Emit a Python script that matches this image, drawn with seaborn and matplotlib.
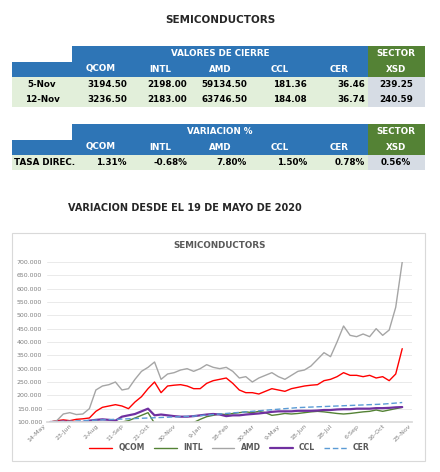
import matplotlib
matplotlib.use("Agg")
import matplotlib.pyplot as plt
import matplotlib.dates as mdates
import matplotlib.ticker as mticker
from matplotlib.patches import Rectangle
import seaborn as sns
import pandas as pd

sns.set_theme(style="white")
plt.rcParams['font.family'] = ['DejaVu Sans']

tickers = ["QCOM", "INTL", "AMD", "CCL", "CER"]
row_labels = ["5-Nov", "12-Nov"]
close_nov5 = ["3194.50", "2198.00", "59134.50", "181.36", "36.46", "239.25"]
close_nov12 = ["3236.50", "2183.00", "63746.50", "184.08", "36.74", "240.59"]
variation = ["1.31%", "-0.68%", "7.80%", "1.50%", "0.78%", "0.56%"]

qcom = [100,105,108,105,110,112,115,140,155,160,165,160,150,175,195,225,250,210,235,238,
        240,235,225,225,245,255,260,265,245,220,210,210,205,215,225,220,215,225,230,235,
        238,240,255,260,270,285,275,275,270,275,265,270,255,280,375]
intl = [100,98,97,96,95,98,97,95,96,97,98,100,105,115,125,135,95,88,90,92,
        95,97,98,110,120,125,130,128,132,135,138,135,140,135,125,128,132,130,132,135,
        138,140,138,135,132,130,132,135,138,140,145,140,145,150,155]
amd = [100,105,130,135,128,130,150,220,235,240,250,220,225,260,290,305,325,260,280,285,
       295,300,290,300,315,305,300,305,290,265,270,250,265,275,285,270,260,275,290,295,
       310,335,360,345,400,460,425,420,430,420,450,425,445,530,700]
ccl = [100,100,102,100,98,100,105,108,110,108,105,120,125,130,140,150,125,128,125,122,
       120,120,122,125,128,130,128,122,125,125,128,130,132,135,138,140,140,140,142,142,
       142,143,145,145,147,148,148,150,150,150,152,152,153,155,156]
cer = [100,101,102,103,104,105,106,107,108,109,110,111,112,113,114,115,116,117,118,119,
       120,121,122,124,126,128,130,132,134,136,138,140,142,144,146,148,150,152,154,155,
       156,157,158,159,160,161,162,163,164,165,166,167,169,171,173]

dates = pd.date_range("2020-05-19", periods=len(amd), freq="10D")
df = pd.DataFrame({"date": dates, "QCOM": qcom, "INTL": intl, "AMD": amd, "CCL": ccl, "CER": cer})
long = df.melt(id_vars="date", var_name="serie", value_name="valor")

W, H = 440, 472
fig = plt.figure(figsize=(4.4, 4.72), dpi=100)
bg = fig.add_axes([0, 0, 1, 1])
bg.set_xlim(0, W); bg.set_ylim(H, 0); bg.axis("off")

BLUE = "#2E75B6"; GREEN = "#548235"; LG = "#E2EFDA"; GB = "#D6DCE4"
cols = [12, 72, 130, 190, 250, 310, 368, 425]

def rect(x0, y0, x1, y1, c):
    bg.add_patch(Rectangle((x0, y0), x1 - x0, y1 - y0, facecolor=c, edgecolor="none"))

def txt(x, y, s, c="black", ha="center", size=6.3):
    bg.text(x, y, s, color=c, ha=ha, va="center", fontsize=size, fontweight="bold")

bg.text(220, 20, "SEMICONDUCTORS", ha="center", va="center", fontsize=7.5, fontweight="bold")

def table(y0, title, rows):
    rect(72, y0, 368, y0 + 16, BLUE)
    rect(12, y0 + 16, 368, y0 + 31, BLUE)
    rect(368, y0, 425, y0 + 31, GREEN)
    txt(220, y0 + 8, title, "white")
    txt(396, y0 + 8, "SECTOR", "white")
    txt(396, y0 + 23, "XSD", "white")
    for i, t in enumerate(tickers):
        txt((cols[i + 1] + cols[i + 2]) / 2, y0 + 23, t, "white")
    y = y0 + 31
    for lab, vals in rows:
        rect(12, y, 368, y + 15, LG)
        rect(368, y, 425, y + 15, GB)
        if lab.startswith("TASA"):
            txt(14, y + 7.5, lab, ha="left")
        else:
            txt(42, y + 7.5, lab)
        for i, v in enumerate(vals[:5]):
            txt(cols[i + 2] - 3, y + 7.5, v, ha="right")
        txt(396, y + 7.5, vals[5])
        y += 15

table(46, "VALORES DE CIERRE", [(row_labels[0], close_nov5), (row_labels[1], close_nov12)])
table(124, "VARIACION %", [("TASA DIREC.", variation)])

bg.text(185, 208, "VARIACION DESDE EL 19 DE MAYO DE 2020", ha="center", va="center",
        fontsize=7, fontweight="bold")
bg.add_patch(Rectangle((12, 233), 413, 228, facecolor="white", edgecolor="#D9D9D9", lw=0.8))
bg.text(220, 245, "SEMICONDUCTORS", ha="center", va="center", fontsize=6.3,
        fontweight="bold", color="#595959")

ax = fig.add_axes([47 / W, 1 - 422 / H, (412 - 47) / W, (422 - 262) / H])
palette = {"QCOM": "#FF0000", "INTL": "#548235", "AMD": "#A5A5A5", "CCL": "#7030A0", "CER": "#5B9BD5"}
sns.lineplot(data=long, x="date", y="valor", hue="serie", style="serie",
             dashes={"QCOM": "", "INTL": "", "AMD": "", "CCL": "", "CER": (4, 2)},
             palette=palette, ax=ax, linewidth=1.0)
for l in ax.get_lines():
    if l.get_color() in ("#7030A0",):
        l.set_linewidth(1.6)
ax.set_ylim(100, 700)
ax.set_xlim(pd.Timestamp("2020-05-14"), pd.Timestamp("2021-11-25"))
ticks = pd.date_range("2020-05-14", periods=15, freq="40D")
ax.set_xticks(ticks)
ax.set_xticklabels([f"{d.day}-{d.strftime('%b')}" for d in ticks], rotation=45, ha="right",
                   fontsize=4.5, color="#7F7F7F")
ax.set_yticks(range(100, 701, 50))
ax.yaxis.set_major_formatter(mticker.FuncFormatter(lambda v, p: f"{v:.3f}"))
ax.tick_params(axis="y", labelsize=4.5, colors="#7F7F7F", length=0)
ax.tick_params(axis="x", length=0, pad=1)
ax.grid(axis="y", color="#E6E6E6", lw=0.6)
ax.set_xlabel(""); ax.set_ylabel("")
for s in ax.spines.values():
    s.set_visible(False)
ax.spines["bottom"].set_visible(True); ax.spines["bottom"].set_color("#D9D9D9")
ax.set_facecolor("none")
leg = ax.legend(loc="upper center", bbox_to_anchor=(0.5, -0.09), ncol=5, frameon=False,
                fontsize=5.5, handlelength=3, columnspacing=1.2)
for t in leg.get_texts():
    t.set_fontweight("bold"); t.set_color("#595959")
fig.savefig("out.png", dpi=100)
